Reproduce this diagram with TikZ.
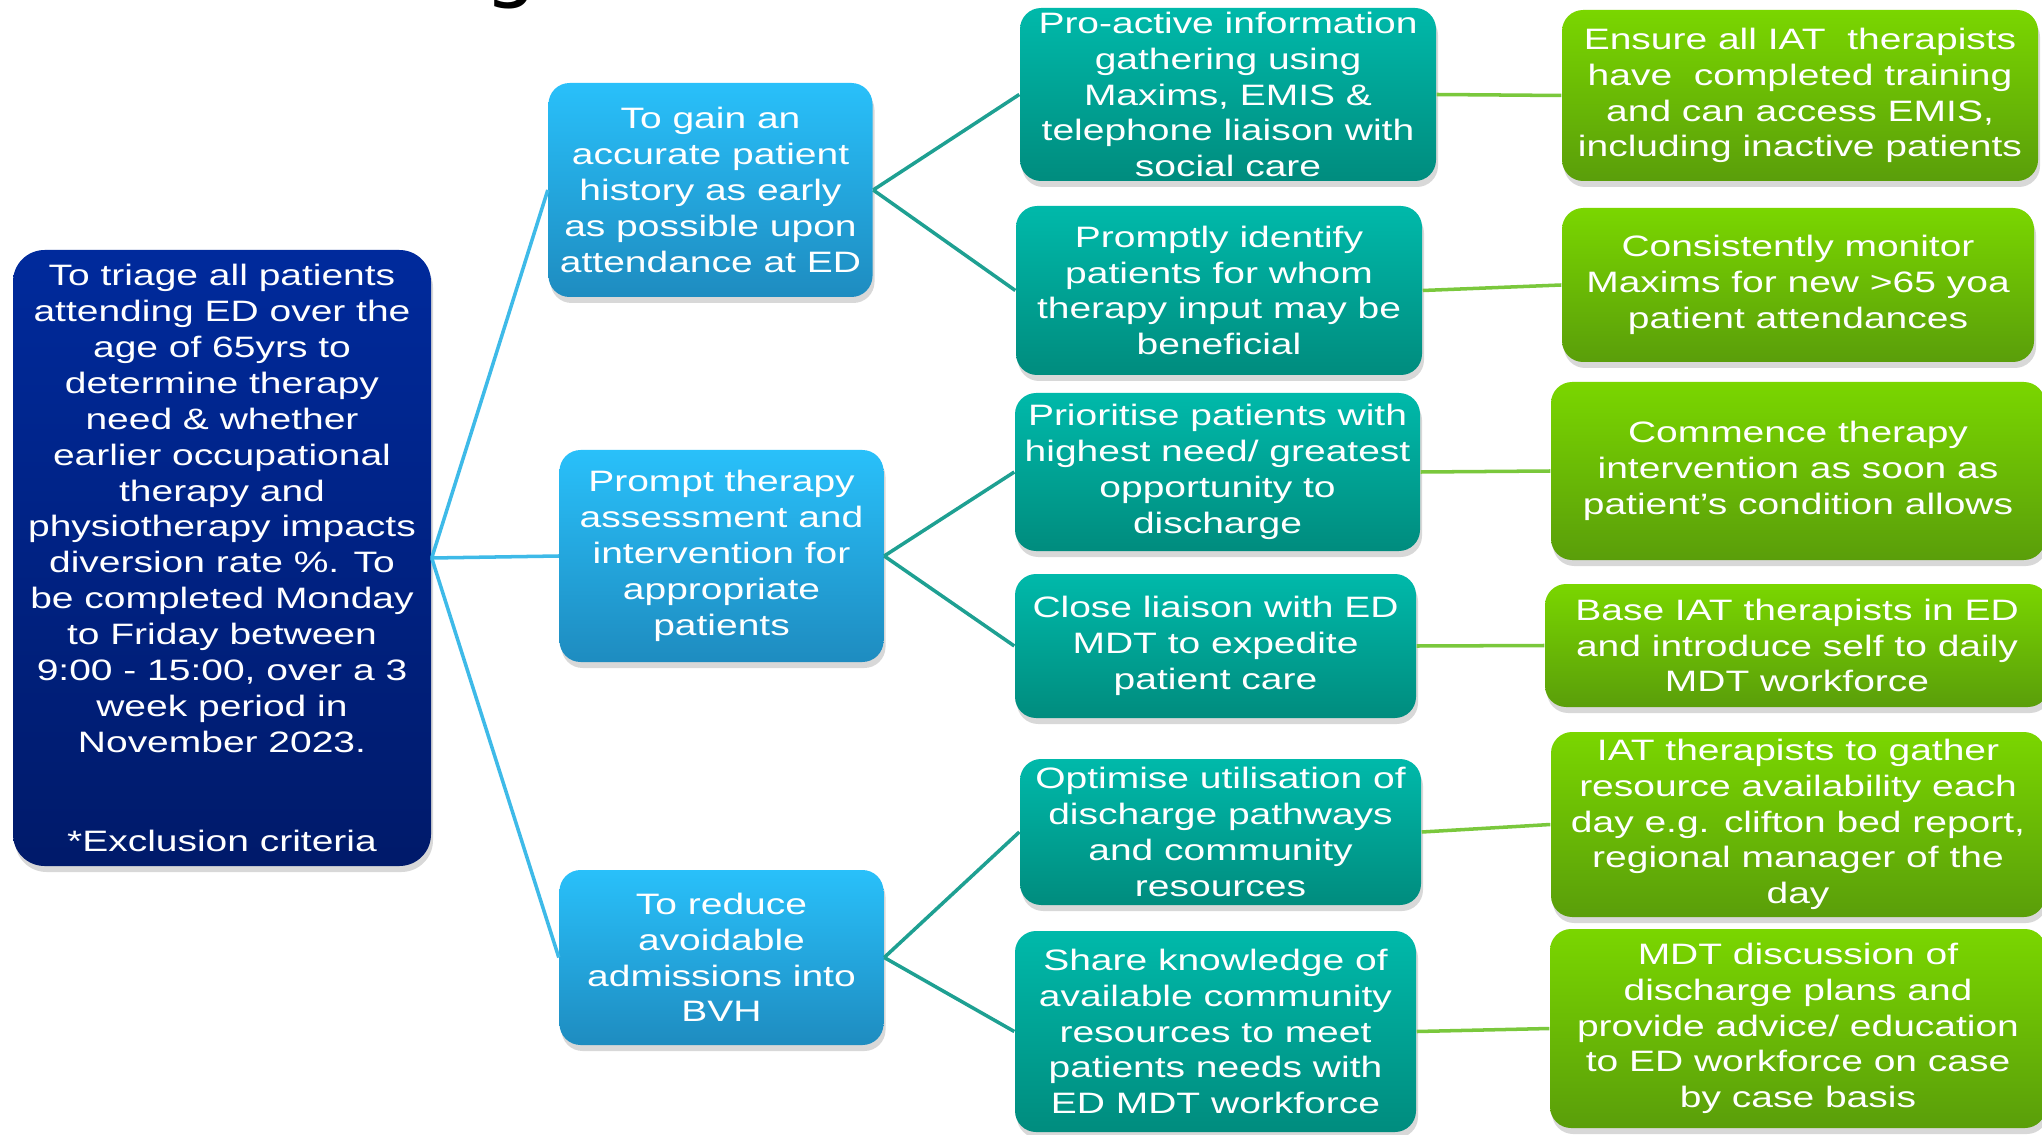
\documentclass[tikz,border=0pt]{standalone}
\usepackage{fontspec}
\setmainfont{Liberation Sans}[FakeStretch=1.32]
\newfontfamily\titlefont{DejaVu Sans}
\usepackage{tikz}
\usetikzlibrary{shadows}
\definecolor{roottop}{RGB}{0, 42, 156}
\definecolor{rootbottom}{RGB}{0, 26, 106}
\definecolor{goaltop}{RGB}{41, 192, 250}
\definecolor{goalbottom}{RGB}{30, 140, 192}
\definecolor{actiontop}{RGB}{0, 185, 170}
\definecolor{actionbottom}{RGB}{0, 140, 126}
\definecolor{tasktop}{RGB}{122, 214, 0}
\definecolor{taskbottom}{RGB}{90, 158, 10}
\definecolor{goalwire}{RGB}{62, 186, 232}
\definecolor{actionwire}{RGB}{30, 160, 146}
\definecolor{taskwire}{RGB}{122, 200, 60}

\begin{document}
\begin{tikzpicture}[
    every node/.style={text=white, align=center, inner sep=0pt, font=\fontsize{8.4}{10.2}\selectfont},
    card/.style={rounded corners=6pt, drop shadow={shadow xshift=0.02cm, shadow yshift=-0.06cm, opacity=0.3}},
    rootbox/.style={card, rounded corners=9pt, top color=roottop, bottom color=rootbottom, minimum width=4.18cm, minimum height=6.16cm},
    goalbox/.style={card, top color=goaltop, bottom color=goalbottom, minimum width=3.24cm},
    actionbox/.style={card, top color=actiontop, bottom color=actionbottom},
    taskbox/.style={card, top color=tasktop, bottom color=taskbottom},
    goalline/.style={draw=goalwire, line width=1pt},
    actionline/.style={draw=actionwire, line width=1pt},
    taskline/.style={draw=taskwire, line width=1pt},
]
    \fill[white] (0,0) rectangle (20.42,11.34);
    \useasboundingbox (0,0) rectangle (20.42,11.34);

    % Title (cut off)
    \node[text=black, anchor=base, font=\titlefont\fontsize{24}{24}\selectfont] (title) at (5.11, 11.42) {g};

    % Aim
    \node[rootbox] (aim) at (2.22, 5.76) {To triage all patients\\attending ED over the\\age of 65yrs to\\determine therapy\\need \& whether\\earlier occupational\\therapy and\\physiotherapy impacts\\diversion rate \%. To\\be completed Monday\\to Friday between\\9:00 - 15:00, over a 3\\week period in\\November 2023.\\[18pt]*Exclusion criteria};

    % Primary drivers
    \node[goalbox, minimum height=2.14cm] (gain) at (7.105, 9.44) {To gain an\\accurate patient\\history as early\\as possible upon\\attendance at ED};
    \node[goalbox, minimum height=2.12cm] (prompt) at (7.215, 5.78) {Prompt therapy\\assessment and\\intervention for\\appropriate\\patients};
    \node[goalbox, minimum height=1.75cm] (reduce) at (7.215, 1.765) {To reduce\\avoidable\\admissions into\\BVH};

    % Secondary drivers
    \node[actionbox, minimum width=4.16cm, minimum height=1.73cm] (info) at (12.28, 10.395) {Pro-active information\\gathering using\\Maxims, EMIS \&\\telephone liaison with\\social care};
    \node[actionbox, minimum width=4.06cm, minimum height=1.69cm] (identify) at (12.19, 8.435) {Promptly identify\\patients for whom\\therapy input may be\\beneficial};
    \node[actionbox, minimum width=4.05cm, minimum height=1.58cm] (prioritise) at (12.175, 6.62) {Prioritise patients with\\highest need/ greatest\\opportunity to\\discharge};
    \node[actionbox, minimum width=4.01cm, minimum height=1.44cm] (liaison) at (12.155, 4.88) {Close liaison with ED\\MDT to expedite\\patient care};
    \node[actionbox, minimum width=4.01cm, minimum height=1.46cm] (optimise) at (12.205, 3.02) {Optimise utilisation of\\discharge pathways\\and community\\resources};
    \node[actionbox, minimum width=4.01cm, minimum height=2.01cm] (share) at (12.155, 1.025) {Share knowledge of\\available community\\resources to meet\\patients needs with\\ED MDT workforce};

    % Change ideas
    \node[taskbox, minimum width=4.76cm, minimum height=1.71cm] (ensure) at (18.0, 10.385) {Ensure all IAT\ \ therapists\\have\ \ completed training\\and can access EMIS,\\including inactive patients};
    \node[taskbox, minimum width=4.72cm, minimum height=1.54cm] (monitor) at (17.98, 8.49) {Consistently monitor\\Maxims for new >65 yoa\\patient attendances};
    \node[taskbox, minimum width=4.94cm, minimum height=1.78cm] (commence) at (17.98, 6.63) {Commence therapy\\intervention as soon as\\patient's condition allows};
    \node[taskbox, minimum width=5.04cm, minimum height=1.23cm] (base) at (17.97, 4.885) {Base IAT therapists in ED\\and introduce self to daily\\MDT workforce};
    \node[taskbox, minimum width=4.94cm, minimum height=1.85cm] (gather) at (17.98, 3.095) {IAT therapists to gather\\resource availability each\\day e.g. clifton bed report,\\regional manager of the\\day};
    \node[taskbox, minimum width=4.96cm, minimum height=1.99cm] (discuss) at (17.98, 1.055) {MDT discussion of\\discharge plans and\\provide advice/ education\\to ED workforce on case\\by case basis};

    % Links
    \draw[goalline] (aim.east) -- (gain.west);
    \draw[goalline] (aim.east) -- (prompt.west);
    \draw[goalline] (aim.east) -- (reduce.west);

    \draw[actionline] (gain.east) -- (info.west);
    \draw[actionline] (gain.east) -- (identify.west);
    \draw[actionline] (prompt.east) -- (prioritise.west);
    \draw[actionline] (prompt.east) -- (liaison.west);
    \draw[actionline] (reduce.east) -- (optimise.west);
    \draw[actionline] (reduce.east) -- (share.west);

    \draw[taskline] (info.east) -- (ensure.west);
    \draw[taskline] (identify.east) -- (monitor.west);
    \draw[taskline] (prioritise.east) -- (commence.west);
    \draw[taskline] (liaison.east) -- (base.west);
    \draw[taskline] (optimise.east) -- (gather.west);
    \draw[taskline] (share.east) -- (discuss.west);

\end{tikzpicture}
\end{document}
